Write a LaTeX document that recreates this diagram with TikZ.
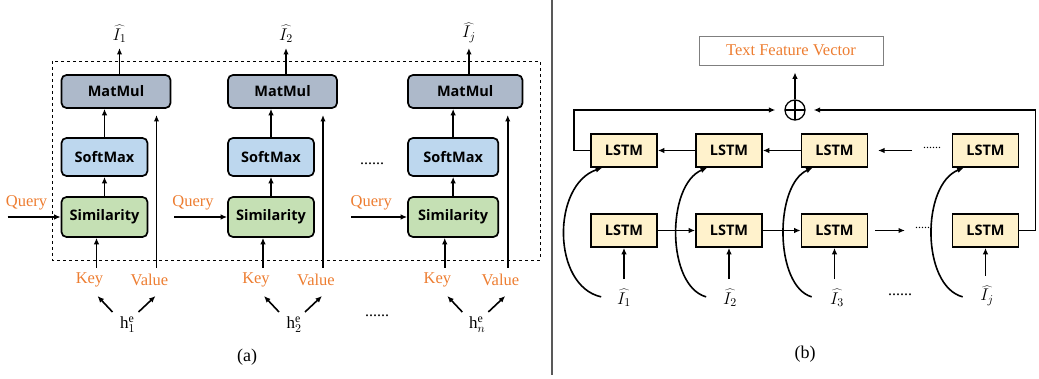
\RequirePackage{fix-cm}
\documentclass[tikz,border=0pt]{standalone}
\usepackage{fontspec}
\setmainfont{Liberation Serif}
\newfontfamily\boxfont{Open Sans}
\usetikzlibrary{arrows.meta,calc}
\definecolor{mmgray}{HTML}{ADB9CA}
\definecolor{smblue}{HTML}{BDD7EE}
\definecolor{simgreen}{HTML}{C5E0B4}
\definecolor{lstmyel}{HTML}{FFF2CC}
\definecolor{orng}{HTML}{ED7D31}
\definecolor{sepgray}{HTML}{595959}
\definecolor{boxgray}{HTML}{7F7F7F}
\begin{document}
\begin{tikzpicture}[x=1pt,y=-1pt,
 opbox/.style={draw=black,line width=1.7pt,rounded corners=5pt,inner sep=0pt,font=\boxfont\bfseries\fontsize{14.5}{16}\selectfont},
 lstmbox/.style={draw=black,line width=1.7pt,fill=lstmyel,minimum width=66pt,minimum height=33pt,inner sep=0pt,font=\boxfont\bfseries\fontsize{14.5}{16}\selectfont},
 arr/.style={-{Latex[length=6.5pt,width=5.5pt]},line width=1.6pt},
 lbl/.style={text=orng,font=\fontsize{16.5}{18}\selectfont,inner sep=0pt},
 mlbl/.style={font=\fontsize{17}{19}\selectfont,inner sep=0pt},
 dots/.style={font=\fontsize{16}{18}\selectfont,inner sep=0pt,anchor=base},
 sdots/.style={font=\fontsize{12}{14}\selectfont,inner sep=0pt,anchor=base},
]
\useasboundingbox (0,0) rectangle (1039,379);

% ---------- part (a) ----------
\draw[dashed,line width=0.8pt] (52,61) rectangle (540,260);
\foreach \i/\L/\s/\hs/\os in {1/61.5/1/1/1, 2/228/1/2/2, 3/408/1.05/n/j} {
 \pgfmathsetmacro\mmx{\L+54.5*\s}
 \pgfmathsetmacro\mmw{109*\s}
 \pgfmathsetmacro\smx{\L+43*\s}
 \pgfmathsetmacro\smw{86*\s}
 \pgfmathsetmacro\kx{\L+35*\s}
 \pgfmathsetmacro\vx{\L+95*\s}
 \pgfmathsetmacro\klx{\L+28*\s}
 \pgfmathsetmacro\vlx{\L+88*\s}
 \pgfmathsetmacro\hx{\L+66*\s}
 \pgfmathsetmacro\qx{\L-35*\s}
 \pgfmathsetmacro\qs{\L-54*\s}
 \pgfmathsetmacro\ox{\L+58*\s}
 \node[opbox,fill=mmgray,minimum width=\mmw pt,minimum height=33pt] (mm\i) at (\mmx,91.5) {MatMul};
 \node[opbox,fill=smblue,minimum width=\smw pt,minimum height=38pt] (sm\i) at (\smx,157) {SoftMax};
 \node[opbox,fill=simgreen,minimum width=\smw pt,minimum height=40pt] (sim\i) at (\smx,217) {Similarity};
 \node[mlbl,anchor=south] (out\i) at (\ox,43) {$\widehat{I_{\os}}$};
 \draw[arr,shorten >=5pt] (mm\i.north -| out\i.south) -- (out\i.south);
 \draw[arr] (sim\i.north) -- (sm\i.south);
 \draw[arr] (sm\i.north) -- (mm\i.south -| sm\i.north);
 \node[lbl] (key\i) at (\klx,280) {Key};
 \node[lbl] (val\i) at (\vlx,280) {Value};
 \coordinate (kb\i) at (\kx,268);
 \coordinate (vb\i) at (\vx,268);
 \coordinate (vt\i) at (\vx,115);
 \draw[arr] (kb\i) -- (kb\i |- sim\i.south);
 \draw[arr] (vb\i) -- (vt\i);
 \node[mlbl] (h\i) at (\hx,325) {$\mathrm{h}_{\hs}^{\mathrm{e}}$};
 \draw[arr] ($(h\i)+(-15,-13)$) -- ($(h\i)+(-30,-29)$);
 \draw[arr] ($(h\i)+(11,-13)$) -- ($(h\i)+(28,-29)$);
 \node[lbl] (q\i) at (\qx,203) {Query};
 \coordinate (qs\i) at (\qs,217);
 \draw[arr] (qs\i) -- (sim\i.west);
}
\node[dots] (da1) at (372,165) {......};
\node[dots] (da2) at (377,317) {......};
\node[font=\fontsize{18}{20}\selectfont] (capa) at (247,357) {(a)};

% separator
\draw[sepgray,line width=1.5pt] (552,0) -- (552,375);

% ---------- part (b) ----------
\node[draw=boxgray,line width=0.8pt,minimum width=184pt,minimum height=29pt,inner sep=0pt,text=orng,font=\fontsize{16.5}{18}\selectfont] (tfv) at (791,50.5) {Text Feature Vector};
\node[draw,circle,line width=1.3pt,minimum size=20pt,inner sep=0pt,
  path picture={\draw[line width=1.3pt] (path picture bounding box.north) -- (path picture bounding box.south) (path picture bounding box.west) -- (path picture bounding box.east);}] (op) at (795,110) {};
\draw[arr,shorten >=7pt] (op.north) -- (op.north |- tfv.south);

\foreach \k/\x in {1/624,2/729,3/834.5,4/985.5} {
 \node[lstmbox] (t\k) at (\x,150.5) {LSTM};
 \node[lstmbox] (b\k) at (\x,230.5) {LSTM};
}
\node[mlbl] (in1) at (624,298) {$\widehat{I_1}$};
\node[mlbl] (in2) at (730,298) {$\widehat{I_2}$};
\node[mlbl] (in3) at (837,298) {$\widehat{I_3}$};
\node[mlbl] (in4) at (987,296) {$\widehat{I_j}$};
\foreach \k in {1,2,3,4} {
 \draw[arr,shorten <=10pt] (in\k.north -| b\k.south) -- (b\k.south);
}
% curved skip arrows
\foreach \k/\c in {1/38.5,2/29,3/26.5,4/30.5} {
 \coordinate (cs\k) at ([xshift=11pt,yshift=-49pt]b\k.south west);
 \coordinate (ce\k) at ([xshift=12pt]t\k.south west);
 \draw[arr] (cs\k) .. controls ($(cs\k)+(-\c-11,-11)$) and ($(ce\k)+(-\c-12,17)$) .. (ce\k);
}
% top row (backward)
\draw[arr] (t2.west) -- (t1.east);
\draw[arr] (t3.west) -- (t2.east);
\coordinate (ta) at (912,150.5);
\coordinate (tb) at (878,150.5);
\draw[arr] (ta) -- (tb);
\node[sdots] (dt) at (932,149) {......};
% bottom row (forward)
\draw[arr] (b1.east) -- (b2.west);
\draw[arr] (b2.east) -- (b3.west);
\coordinate (ba) at (875,230.5);
\coordinate (bb) at (905,230.5);
\draw[arr] (ba) -- (bb);
\node[sdots] (db) at (924,229) {......};
\node[dots] (dl) at (900,296) {......};
% loops to oplus
\draw[arr,shorten >=9pt] (t1.west) -- ++(-16,0) |- (op.west);
\draw[arr,shorten >=8pt] (b4.east) -- ++(16,0) |- (op.east);
\node[font=\fontsize{18}{20}\selectfont] (capb) at (805,354) {(b)};
\end{tikzpicture}
\end{document}
